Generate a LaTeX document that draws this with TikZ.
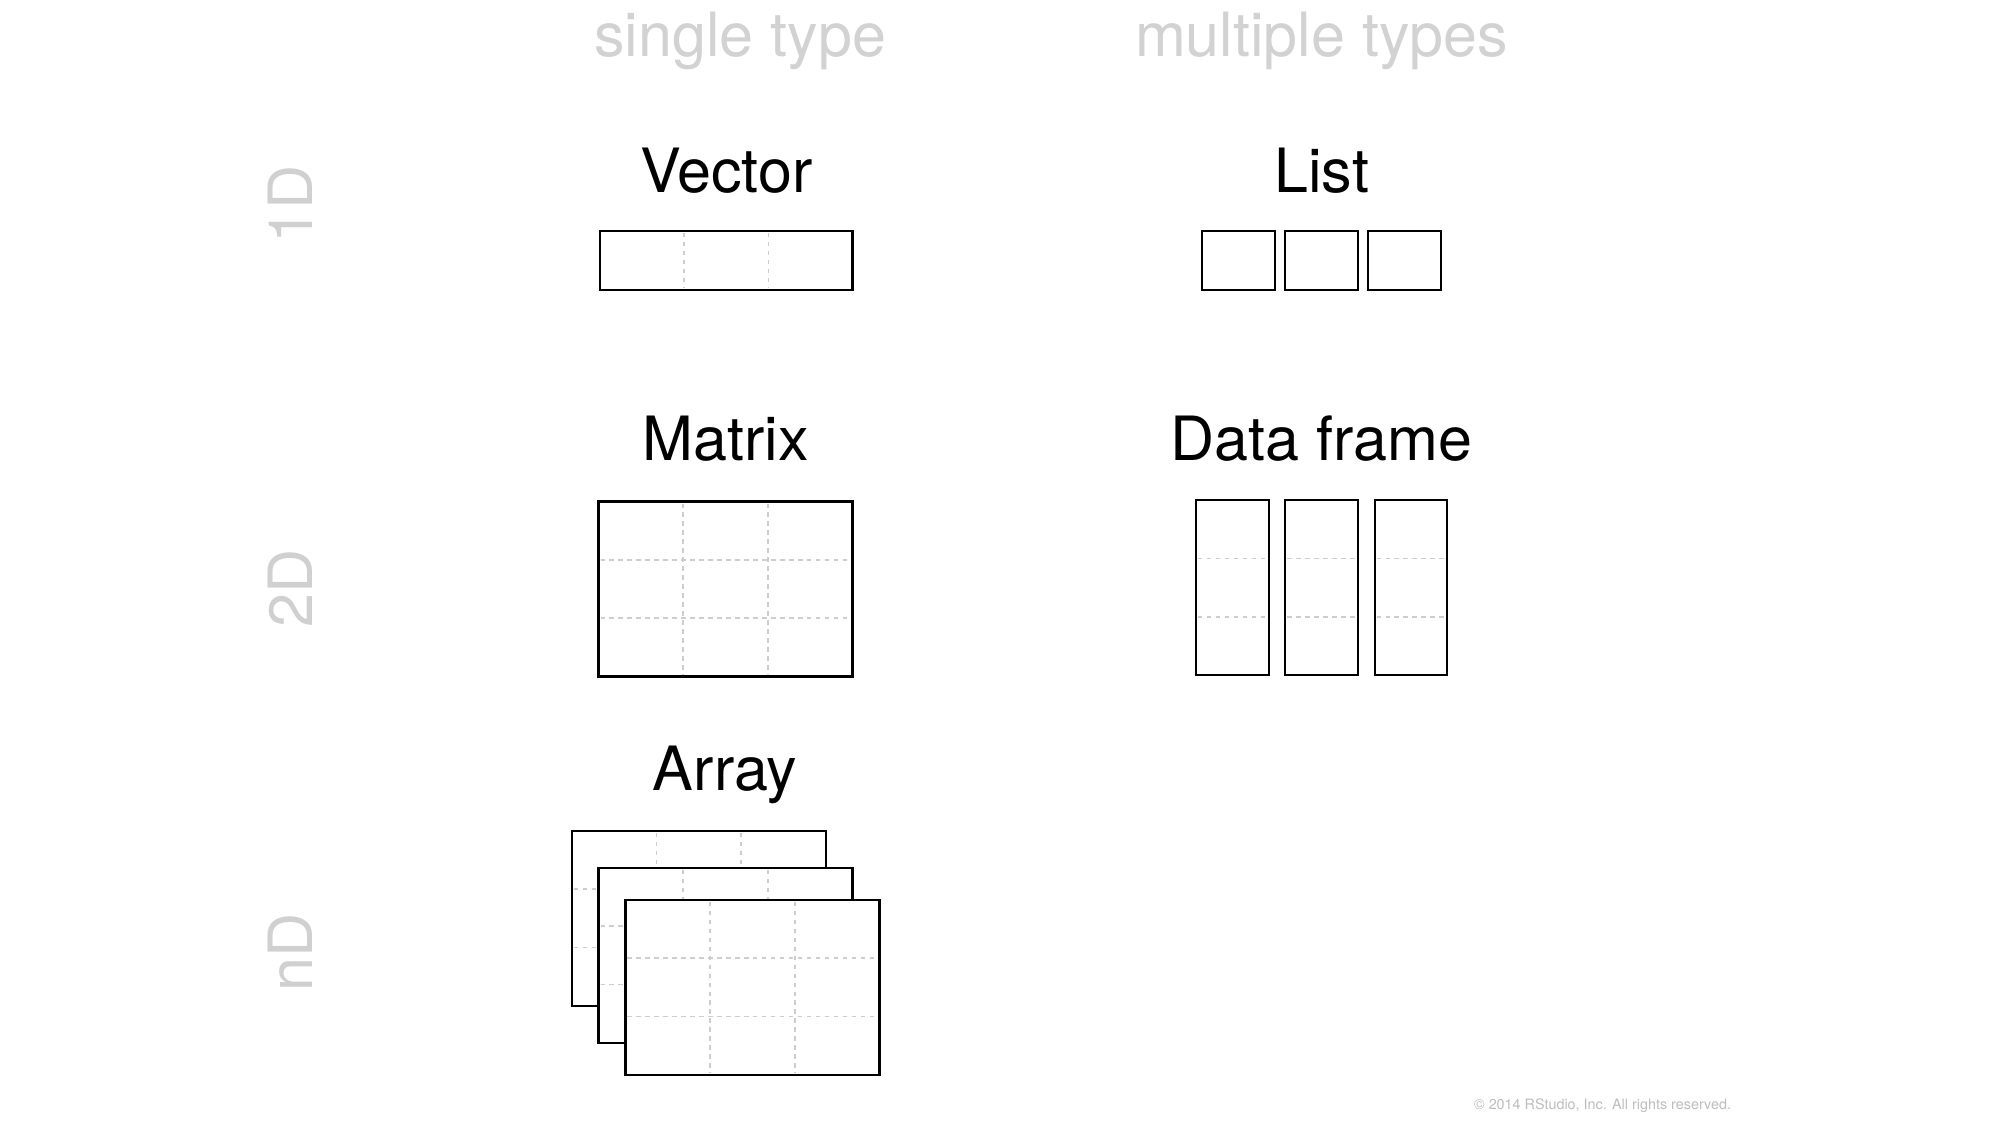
\documentclass[tikz,border=0pt]{standalone}
\usepackage{fontspec}
\setmainfont{TeX Gyre Heros}
\definecolor{hdrgray}{HTML}{D2D2D2}
\definecolor{sidegray}{HTML}{D0D0D0}
\definecolor{copygray}{HTML}{BDBDBD}
\definecolor{dashgray}{HTML}{CDCDCD}
\newcommand\cellgrid[6]{%
  \fill[white] (#1,#2) rectangle (#3,#4);
  \pgfmathtruncatemacro\gridNC{#5-1}%
  \pgfmathtruncatemacro\gridNR{#6-1}%
  \ifnum\gridNC>0
    \foreach \k in {1,...,\gridNC}{\draw[divider] ({#1+(#3-#1)*\k/#5},{#2+1.5}) -- ({#1+(#3-#1)*\k/#5},{#4-1.5});}%
  \fi
  \ifnum\gridNR>0
    \foreach \k in {1,...,\gridNR}{\draw[divider] ({#1+1.5},{#2+(#4-#2)*\k/#6}) -- ({#3-1.5},{#2+(#4-#2)*\k/#6});}%
  \fi
  \draw[boxline] (#1,#2) rectangle (#3,#4);
}
\begin{document}
\begin{tikzpicture}[x=0.01cm,y=-0.01cm,
  boxline/.style={draw=black, line width=0.5pt},
  divider/.style={draw=dashgray, line width=0.35pt, dash pattern=on 1pt off 1pt},
  title/.style={font=\fontsize{13.6}{16}\selectfont, text=black, anchor=base, inner sep=0pt},
  header/.style={title, text=hdrgray},
  side/.style={title, text=sidegray, rotate=90},
  copy/.style={font=\fontsize{3.2}{4}\selectfont, text=copygray, anchor=base east, inner sep=0pt}]
\useasboundingbox (0,0) rectangle (1567,881.4);
\fill[white] (0,0) rectangle (1567,881.4);

% column headers
\node[header] (single) at (580,44) {single type};
\node[header] (multiple) at (1035.5,44) {multiple types};

% row labels
\node[side] (oneD) at (245,160) {1D};
\node[side] (twoD) at (245,461) {2D};
\node[side] (nD) at (245,746) {nD};

% titles
\node[title] (vector) at (569,151) {Vector};
\node[title] (list) at (1035.5,151) {List};
\node[title] (matrix) at (568.5,361) {Matrix};
\node[title] (dataframe) at (1035.5,361) {Data frame};
\node[title] (array) at (568,619) {Array};

% Vector
\cellgrid{470}{181}{668}{227}{3}{1}
% List
\cellgrid{942}{181}{999}{227}{1}{1}
\cellgrid{1007}{181}{1064}{227}{1}{1}
\cellgrid{1072}{181}{1129}{227}{1}{1}
% Matrix
\cellgrid{469}{393}{668}{530}{3}{3}
% Data frame
\cellgrid{937}{392}{994}{529}{1}{3}
\cellgrid{1007}{392}{1064}{529}{1}{3}
\cellgrid{1077}{392}{1134}{529}{1}{3}
% Array
\cellgrid{448}{651}{647}{788}{3}{3}
\cellgrid{469}{680}{668}{817}{3}{3}
\cellgrid{490}{705}{689}{842}{3}{3}

% copyright
\node[copy] (copyright) at (1357,869) {© 2014 RStudio, Inc. All rights reserved.};
\end{tikzpicture}
\end{document}
